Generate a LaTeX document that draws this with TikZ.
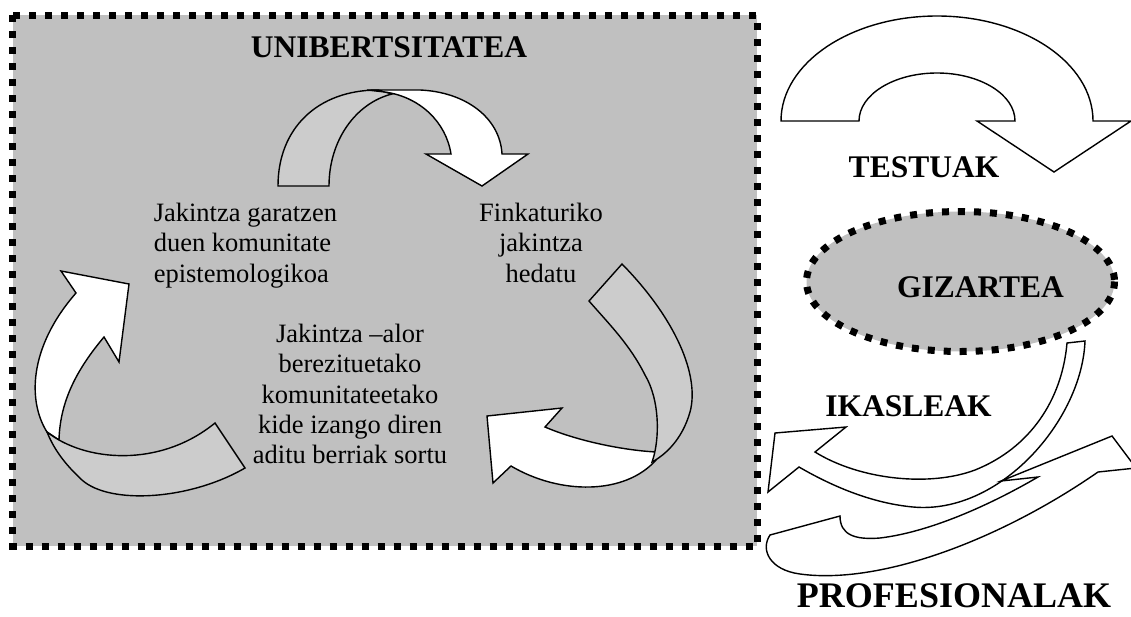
\documentclass[tikz,border=0pt]{standalone}
\usepackage{fontspec}
\setmainfont{Liberation Serif}
\definecolor{boxgray}{RGB}{192,192,192}
\definecolor{backgray}{RGB}{204,204,204}

\begin{document}
\begin{tikzpicture}[x=1pt, y=-1pt,
dotborder/.style={line width=7pt, dash pattern=on 7pt off 9pt},
front/.style={draw, fill=white, line width=1.4pt},
back/.style={draw, fill=backgray, line width=1.4pt},
textnode/.style={inner sep=0pt, font=\fontsize{26.5}{30.3}\selectfont},
labelnode/.style={inner sep=0pt, font=\bfseries\fontsize{31.5}{36}\selectfont}]
    \useasboundingbox (0,0) rectangle (1131,616);
    \clip (0,0) rectangle (1131,616);
    \filldraw [fill=boxgray, dotborder] (12.5,15) rectangle (757,546);

    \filldraw [back] (278,186) .. controls (278,128) and (318,90) .. (378,90)
        -- (392,94) .. controls (356,103) and (329,140) .. (329,186) -- cycle;
    \filldraw [front] (367,90) -- (420,90) .. controls (466,92) and (500,118) .. (502,154)
        -- (528,154) -- (482,186) -- (426,154) -- (451,154)
        .. controls (446,122) and (420,97) .. (385,92) -- cycle;

    \filldraw [front] (76,293) -- (61,271) -- (129,284) -- (119,362) -- (104,337)
        .. controls (78,368) and (60,400) .. (59,440) -- (47,432)
        .. controls (28,402) and (28,348) .. (76,293) -- cycle;
    \filldraw [back] (47,432) .. controls (85,462) and (160,468) .. (215,423)
        -- (245,468) .. controls (190,500) and (110,505) .. (82,480)
        .. controls (68,467) and (55,452) .. (47,432) -- cycle;

    \filldraw [front] (656,452) .. controls (620,450) and (575,440) .. (545,427)
        -- (562,408) -- (487,416) -- (493,483) -- (511,466)
        .. controls (560,495) and (625,495) .. (656,460) -- cycle;
    \filldraw [back] (589,301) -- (622,264) .. controls (675,318) and (700,375) .. (690,412)
        .. controls (682,440) and (665,455) .. (652,462)
        .. controls (660,440) and (660,400) .. (645,375)
        .. controls (630,345) and (610,325) .. (589,301) -- cycle;

    \node [labelnode, anchor=base] (univ) at (389,57) {UNIBERTSITATEA};
    \node [textnode, anchor=north west, align=left] (garatu) at (153.6,203)
        {Jakintza garatzen\\duen komunitate\\epistemologikoa};
    \node [textnode, anchor=north, align=center] (hedatu) at (541,203)
        {Finkaturiko\\jakintza\\hedatu};
    \node [textnode, anchor=north, align=center] (sortu) at (350,324)
        {Jakintza –alor\\berezituetako\\komunitateetako\\kide izango diren\\aditu berriak sortu};

    \filldraw [front] (781,121) arc [start angle=180, end angle=360, x radius=156, y radius=105]
        -- (1131,121) -- (1054,172) -- (977,121) -- (1015,121)
        arc [start angle=0, end angle=-180, x radius=78, y radius=48] -- cycle;
    \node [labelnode, anchor=base] (testuak) at (924,177) {TESTUAK};

    \filldraw [fill=boxgray, dotborder] (960.5,281.5) ellipse [x radius=154, y radius=70];
    \node [labelnode, anchor=base] (gizartea) at (980.5,297) {GIZARTEA};

    \filldraw [front] (1067,343) -- (1085,341) .. controls (1082,420) and (1000,515) .. (913,507)
        .. controls (870,503) and (830,485) .. (799,467) -- (768,492) -- (775,433)
        -- (846,427) -- (815,452) .. controls (860,480) and (930,487) .. (975,470)
        .. controls (1030,448) and (1062,400) .. (1067,343) -- cycle;
    \node [labelnode, anchor=base] (ikasleak) at (908.5,416) {IKASLEAK};

    \filldraw [front] (770,535) -- (840,516) .. controls (840,535) and (855,540) .. (880,538)
        .. controls (930,532) and (990,505) .. (1038,477) -- (1001,481) -- (1112,436)
        -- (1136,468) -- (1098,472) .. controls (1000,540) and (880,585) .. (800,574)
        .. controls (770,570) and (760,550) .. (770,535) -- cycle;
    \node [labelnode, anchor=base, font=\bfseries\fontsize{36}{42}\selectfont] (profesionalak) at (954,607) {PROFESIONALAK};
\end{tikzpicture}
\end{document}
